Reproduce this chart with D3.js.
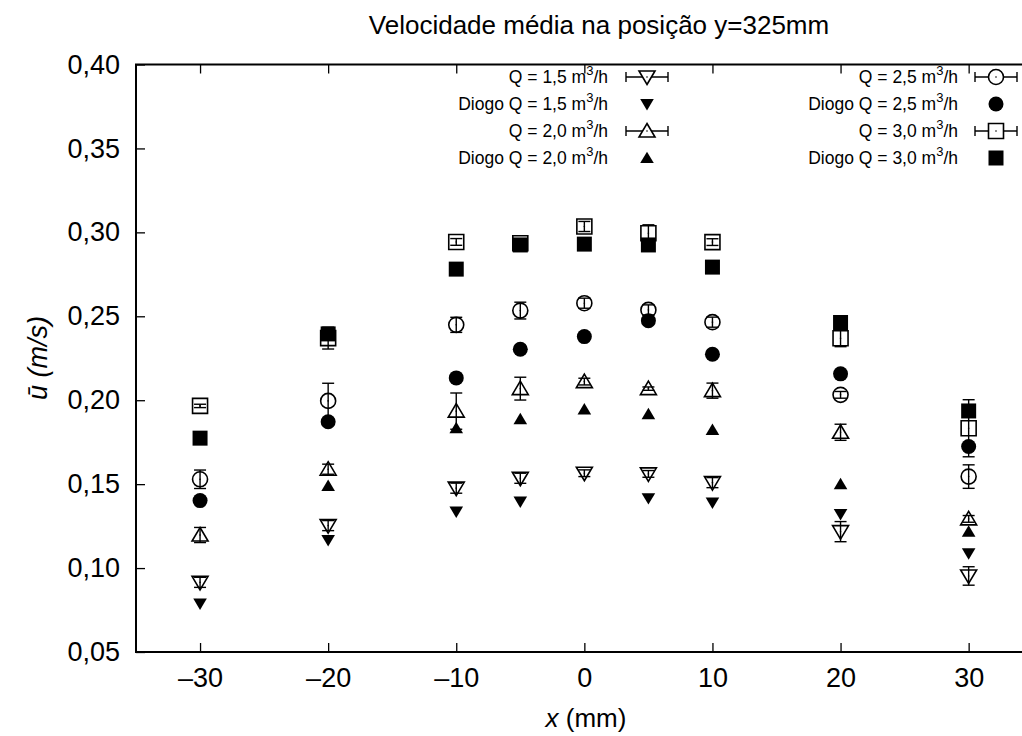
<!DOCTYPE html>
<html>
<head>
<meta charset="utf-8">
<script src="https://cdn.jsdelivr.net/npm/d3@7"></script>
<style>
  html, body { margin: 0; padding: 0; background: #fff; }
  svg { display: block; font-family: "Liberation Sans", Arial, Helvetica, sans-serif; }
</style>
</head>
<body>
<svg id="chart" width="1022" height="736"></svg>
<script>
// Radial positions (mm)
const positions = [-30, -20, -10, -5, 0, 5, 10, 20, 30];

// Measured mean velocity (m/s) and its uncertainty, per flow rate
const q15 = [0.0915, 0.1253, 0.1476, 0.1535, 0.1565, 0.1561, 0.1509, 0.1217, 0.0953];
const q15Err = [0.003, 0.003, 0.003, 0.003, 0.002, 0.002, 0.003, 0.006, 0.0055];
const q20 = [0.1197, 0.1589, 0.1935, 0.2069, 0.2111, 0.2069, 0.2057, 0.1809, 0.1293];
const q20Err = [0.0045, 0.003, 0.0108, 0.0068, 0.002, 0.001, 0.0045, 0.0048, 0.002];
const q25 = [0.1529, 0.1996, 0.2449, 0.2534, 0.2578, 0.2538, 0.2465, 0.2032, 0.1545];
const q25Err = [0.0055, 0.0105, 0.0045, 0.005, 0.003, 0.003, 0.003, 0.002, 0.007];
const q30 = [0.1966, 0.237, 0.2943, 0.2935, 0.3035, 0.2995, 0.2942, 0.2369, 0.1833];
const q30Err = [0.001, 0.0065, 0.002, 0.001, 0.003, 0.005, 0.002, 0.005, 0.017];

// Reference results (Diogo), no uncertainty given
const diogo15 = [0.0788, 0.1167, 0.1336, 0.1396, null, 0.1416, 0.139, 0.1322, 0.1088];
const diogo20 = [null, 0.149, 0.1834, 0.1887, 0.1946, 0.1917, 0.1823, 0.15, 0.1217];
const diogo25 = [0.1402, 0.1872, 0.2133, 0.2304, 0.2379, 0.2474, 0.2274, 0.2157, 0.1724];
const diogo30 = [0.1774, 0.2395, 0.2781, 0.2925, 0.293, 0.2925, 0.2793, 0.2463, 0.1936];

// Axis ticks
const xTicks = [-30, -20, -10, 0, 10, 20, 30];
const yTicks = [0.05, 0.10, 0.15, 0.20, 0.25, 0.30, 0.35, 0.40];

const titleText = "Velocidade média na posição y=325mm";

// Series in drawing order
const series = [
  { label: "1,5", prefix: "Q = ", values: q15, err: q15Err, shape: "down", filled: false, col: 0, row: 0 },
  { label: "1,5", prefix: "Diogo Q = ", values: diogo15, err: null, shape: "down", filled: true, col: 0, row: 1 },
  { label: "2,0", prefix: "Q = ", values: q20, err: q20Err, shape: "up", filled: false, col: 0, row: 2 },
  { label: "2,0", prefix: "Diogo Q = ", values: diogo20, err: null, shape: "up", filled: true, col: 0, row: 3 },
  { label: "2,5", prefix: "Q = ", values: q25, err: q25Err, shape: "circle", filled: false, col: 1, row: 0 },
  { label: "2,5", prefix: "Diogo Q = ", values: diogo25, err: null, shape: "circle", filled: true, col: 1, row: 1 },
  { label: "3,0", prefix: "Q = ", values: q30, err: q30Err, shape: "square", filled: false, col: 1, row: 2 },
  { label: "3,0", prefix: "Diogo Q = ", values: diogo30, err: null, shape: "square", filled: true, col: 1, row: 3 }
];

const svg = d3.select("#chart");
const plot = { left: 136, top: 64.5, right: 1032.7, bottom: 652 };

const x = d3.scaleLinear().domain([-35, 35]).range([plot.left, plot.right]);
const y = d3.scaleLinear().domain([0.05, 0.40]).range([plot.bottom, plot.top]);

// Marker path generators (centred on 0,0)
function markerPath(shape) {
  switch (shape) {
    case "square": return "M-7.5,-7.5H7.5V7.5H-7.5Z";
    case "circle": return d3.arc()({ innerRadius: 0, outerRadius: 7.5, startAngle: 0, endAngle: 2 * Math.PI });
    case "up": return "M0,-7.5L8,6L-8,6Z";
    case "down": return "M0,7.5L8,-6L-8,-6Z";
  }
}
function drawMarker(g, shape, filled, cx, cy) {
  const s = filled && (shape === "up" || shape === "down") ? 0.85 : 1.0;
  g.append("path")
    .attr("d", markerPath(shape))
    .attr("transform", `translate(${cx},${cy}) scale(${s})`)
    .attr("fill", filled ? "#000" : "none")
    .attr("stroke", "#000")
    .attr("stroke-width", filled ? 0 : 1.6);
  if (!filled) {
    g.append("circle").attr("cx", cx).attr("cy", cy).attr("r", 0.8).attr("fill", "#000");
  }
}

// Frame (right edge runs past the canvas)
svg.append("path")
  .attr("d", `M${plot.right},${plot.top}H${plot.left}V${plot.bottom}H${plot.right}`)
  .attr("fill", "none").attr("stroke", "#000").attr("stroke-width", 2);

// Axes via d3 axis generators, ticks pointing inward
const tickLen = 9;
const xAxisBottom = svg.append("g")
  .attr("transform", `translate(0,${plot.bottom})`)
  .call(d3.axisBottom(x).tickValues(xTicks).tickSize(-tickLen).tickPadding(16)
    .tickFormat(d => d < 0 ? "\u2013" + Math.abs(d) : String(d)));
const xAxisTop = svg.append("g")
  .attr("transform", `translate(0,${plot.top})`)
  .call(d3.axisTop(x).tickValues(xTicks).tickSize(-tickLen).tickFormat(""));
const yAxisLeft = svg.append("g")
  .attr("transform", `translate(${plot.left},0)`)
  .call(d3.axisLeft(y).tickValues(yTicks).tickSize(-tickLen).tickPadding(16)
    .tickFormat(d => d3.format(".2f")(d).replace(".", ",")));

[xAxisBottom, xAxisTop, yAxisLeft].forEach(a => {
  a.select(".domain").remove();
  a.selectAll(".tick line").attr("stroke", "#000").attr("stroke-width", 1.3);
  a.selectAll(".tick text").attr("fill", "#000").attr("font-size", 27)
    .attr("font-family", "\"Liberation Sans\", Arial, sans-serif");
});

// Title and axis labels
svg.append("text")
  .attr("x", 599).attr("y", 34)
  .attr("text-anchor", "middle").attr("font-size", 26)
  .text(titleText);

const xl = svg.append("text")
  .attr("x", 586).attr("y", 727)
  .attr("text-anchor", "middle").attr("font-size", 26);
xl.append("tspan").attr("font-style", "italic").text("x");
xl.append("tspan").text(" (mm)");

const yl = svg.append("text")
  .attr("transform", "translate(47,358) rotate(-90)")
  .attr("text-anchor", "middle").attr("font-size", 27).attr("font-style", "italic");
yl.append("tspan").text("\u016B (m/s)");

// Data marks
const marks = svg.append("g");
series.forEach(s => {
  const g = marks.append("g");
  positions.forEach((px, i) => {
    const v = s.values[i];
    if (v == null) return;
    const cx = x(px), cy = y(v);
    if (s.err) {
      const e = s.err[i];
      const y0 = y(v - e), y1 = y(v + e);
      g.append("line").attr("x1", cx).attr("x2", cx).attr("y1", y0).attr("y2", y1)
        .attr("stroke", "#000").attr("stroke-width", 1.4);
      [y0, y1].forEach(yy => g.append("line")
        .attr("x1", cx - 6).attr("x2", cx + 6).attr("y1", yy).attr("y2", yy)
        .attr("stroke", "#000").attr("stroke-width", 1.4));
    }
    drawMarker(g, s.shape, s.filled, cx, cy);
  });
});

// Legend
const legend = svg.append("g").attr("font-size", 17.5);
const colTextRight = [608, 958];
const colSample = [647, 996];
const rowY = [77, 104, 131, 158];
series.forEach(s => {
  const ty = rowY[s.row];
  const t = legend.append("text")
    .attr("x", colTextRight[s.col]).attr("y", ty + 6)
    .attr("text-anchor", "end");
  t.append("tspan").text(`${s.prefix}${s.label} m`);
  t.append("tspan").attr("dy", -8).attr("font-size", 13).text("3");
  t.append("tspan").attr("dy", 8).text("/h");
  const cx = colSample[s.col];
  if (s.err) {
    legend.append("line").attr("x1", cx - 21).attr("x2", cx + 21).attr("y1", ty).attr("y2", ty)
      .attr("stroke", "#000").attr("stroke-width", 1.4);
    [cx - 21, cx + 21].forEach(xx => legend.append("line")
      .attr("x1", xx).attr("x2", xx).attr("y1", ty - 5).attr("y2", ty + 5)
      .attr("stroke", "#000").attr("stroke-width", 1.4));
    legend.append("path").attr("d", markerPath(s.shape))
      .attr("transform", `translate(${cx},${ty})`)
      .attr("fill", "#fff").attr("stroke", "#000").attr("stroke-width", 1.6);
    legend.append("circle").attr("cx", cx).attr("cy", ty).attr("r", 0.8).attr("fill", "#000");
  } else {
    drawMarker(legend, s.shape, true, cx, ty);
  }
});
</script>
</body>
</html>
